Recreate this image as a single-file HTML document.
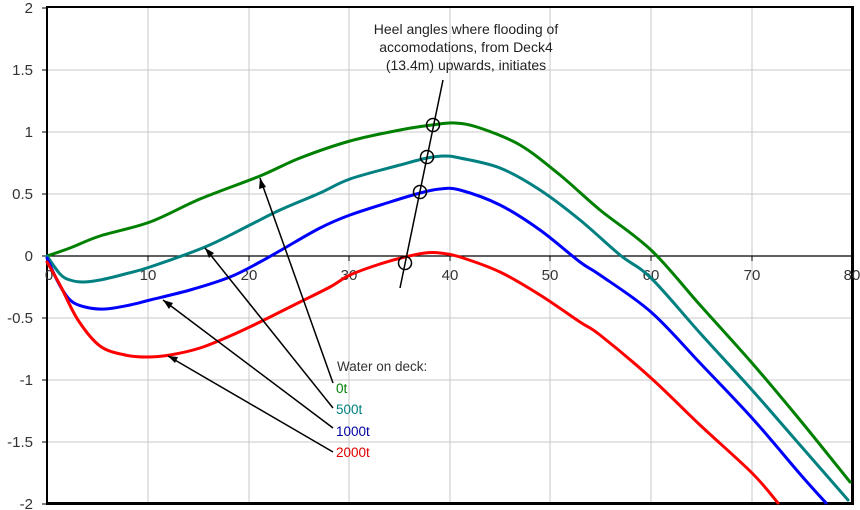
<!DOCTYPE html>
<html><head><meta charset="utf-8"><style>
body{margin:0;background:#fff;}
svg{display:block;font-family:"Liberation Sans",sans-serif;}
</style></head><body>
<svg width="860" height="510" viewBox="0 0 860 510">
<rect width="860" height="510" fill="#fff"/>
<g stroke="#c8c8c8" stroke-width="1">
<line x1="148" y1="7" x2="148" y2="503"/><line x1="249" y1="7" x2="249" y2="503"/>
<line x1="349" y1="7" x2="349" y2="503"/><line x1="450" y1="7" x2="450" y2="503"/>
<line x1="550" y1="7" x2="550" y2="503"/><line x1="651" y1="7" x2="651" y2="503"/>
<line x1="752" y1="7" x2="752" y2="503"/>
<line x1="47" y1="70" x2="852" y2="70"/><line x1="47" y1="132" x2="852" y2="132"/>
<line x1="47" y1="194" x2="852" y2="194"/><line x1="47" y1="318" x2="852" y2="318"/>
<line x1="47" y1="380" x2="852" y2="380"/><line x1="47" y1="442" x2="852" y2="442"/>
</g>
<line x1="47" y1="256" x2="852" y2="256" stroke="#000" stroke-width="1.2"/>
<g stroke="#000" stroke-width="1"><line x1="148" y1="256" x2="148" y2="261"/><line x1="249" y1="256" x2="249" y2="261"/><line x1="349" y1="256" x2="349" y2="261"/><line x1="450" y1="256" x2="450" y2="261"/><line x1="550" y1="256" x2="550" y2="261"/><line x1="651" y1="256" x2="651" y2="261"/><line x1="752" y1="256" x2="752" y2="261"/>
<line x1="42" y1="8" x2="47" y2="8"/><line x1="42" y1="70" x2="47" y2="70"/><line x1="42" y1="132" x2="47" y2="132"/><line x1="42" y1="194" x2="47" y2="194"/><line x1="42" y1="256" x2="47" y2="256"/><line x1="42" y1="318" x2="47" y2="318"/><line x1="42" y1="380" x2="47" y2="380"/><line x1="42" y1="442" x2="47" y2="442"/><line x1="42" y1="504" x2="47" y2="504"/></g>
<path d="M47,7 H853 V504 H47 Z" fill="none" stroke="#000" stroke-width="2"/>
<line x1="47" y1="503.5" x2="854" y2="503.5" stroke="#000" stroke-width="3"/>
<line x1="852.5" y1="6" x2="852.5" y2="505" stroke="#000" stroke-width="3"/>
<g font-size="15" fill="#333" text-anchor="end">
<text x="33" y="13">2</text><text x="33" y="75">1.5</text><text x="33" y="137">1</text><text x="33" y="199">0.5</text><text x="33" y="261">0</text><text x="33" y="323">-0.5</text><text x="33" y="385">-1</text><text x="33" y="447">-1.5</text><text x="33" y="509">-2</text>
</g>
<g font-size="15" fill="#333" text-anchor="middle">
<text x="49" y="280">0</text><text x="148" y="280">10</text><text x="249" y="280">20</text><text x="349" y="280">30</text><text x="450" y="280">40</text><text x="550" y="280">50</text><text x="651" y="280">60</text><text x="752" y="280">70</text><text x="852" y="280">80</text>
</g>
<g fill="none" stroke-width="3" stroke-linejoin="round" stroke-linecap="round">
<path class="c" stroke="#008000" data-p="47,256 70,248 100,236 150,222 200,199 260,176 300,158 350,141 400,130 432,125 455,123 480,128 520,145 560,175 600,210 651,250 700,305 752,363 800,420 850,482"/>
<path class="c" stroke="#008080" data-p="47,256 60,274 70,280 83,282 100,280 125,274 150,267 205,247 250,225 280,210 320,193 350,179 400,165 427,158 445,156 460,158 500,168 540,190 580,220 620,255 651,278 700,333 752,390 800,445 848,500"/>
<path class="c" stroke="#0000ff" data-p="47,258 58,282 70,300 85,307 105,309 130,305 150,300 190,290 230,277 260,262 283,249 320,228 350,215 390,202 420,193 440,189 460,190 500,205 540,230 580,262 600,275 651,312 700,363 752,418 800,474 826,503"/>
<path class="c" stroke="#ff0000" data-p="47,262 60,285 78,320 100,346 125,355 147,357 170,355 200,348 230,336 260,322 300,302 330,287 350,275 380,264 405,257 425,253 440,253 460,257 500,272 540,295 580,322 600,335 651,378 700,425 752,473 778,503"/>
</g>
<g stroke="#000" stroke-width="1.5" fill="none">
<line x1="443" y1="80" x2="400" y2="288"/>
<circle cx="433" cy="125" r="6.5"/><circle cx="427" cy="157" r="6.5"/><circle cx="420" cy="192" r="6.5"/><circle cx="405" cy="263" r="6.5"/>
<line x1="333" y1="383" x2="260" y2="178"/>
<line x1="333" y1="408" x2="205" y2="248"/>
<line x1="333" y1="428" x2="163" y2="300"/>
<line x1="333" y1="452" x2="168" y2="356"/>
</g>
<g fill="#000">
<polygon points="260,178 259,189 266,187"/>
<polygon points="205,248 209,258 214,253"/>
<polygon points="163,300 169,309 173,303"/>
<polygon points="168,356 175,363 178,357"/>
</g>
<g font-size="14" text-anchor="middle" fill="#222">
<text x="466" y="34">Heel angles where flooding of</text>
<text x="466" y="52">accomodations, from Deck4</text>
<text x="466" y="70">(13.4m) upwards, initiates</text>
</g>
<g font-size="13.5">
<text x="337" y="371" fill="#333">Water on deck:</text>
<text x="336" y="393" fill="#008000">0t</text>
<text x="336" y="414" fill="#008080">500t</text>
<text x="336" y="436" fill="#0000a0">1000t</text>
<text x="336" y="457" fill="#e00000">2000t</text>
</g>
</svg>
<script>
document.querySelectorAll('path.c').forEach(function(el){
  var p=el.getAttribute('data-p').trim().split(/\s+/).map(function(s){return s.split(',').map(Number);});
  var d='M'+p[0][0]+','+p[0][1];
  for(var i=0;i<p.length-1;i++){
    var p0=p[i-1]||p[i],p1=p[i],p2=p[i+1],p3=p[i+2]||p2;
    var c1x=p1[0]+(p2[0]-p0[0])/6,c1y=p1[1]+(p2[1]-p0[1])/6;
    var c2x=p2[0]-(p3[0]-p1[0])/6,c2y=p2[1]-(p3[1]-p1[1])/6;
    d+=' C'+c1x.toFixed(1)+','+c1y.toFixed(1)+' '+c2x.toFixed(1)+','+c2y.toFixed(1)+' '+p2[0]+','+p2[1];
  }
  el.setAttribute('d',d);
});
</script>
</body></html>
